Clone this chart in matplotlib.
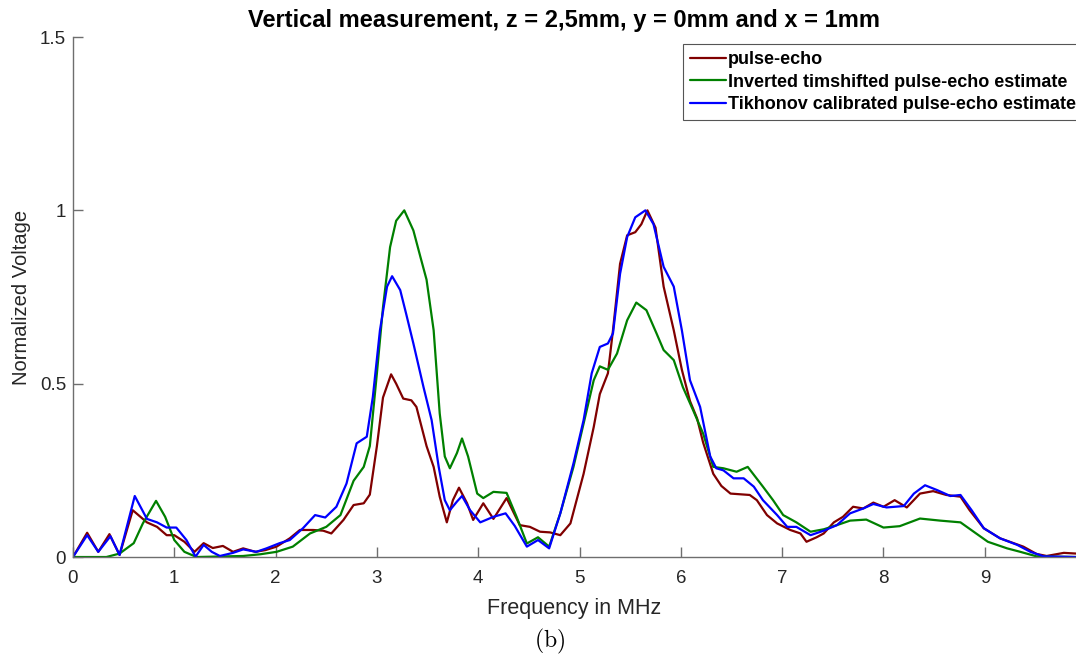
import matplotlib
matplotlib.use('Agg')
import matplotlib.pyplot as plt

# frequency (MHz) / normalized voltage
f_pe = [0, 0.14, 0.25, 0.36, 0.46, 0.59, 0.73, 0.83, 0.925, 1.0, 1.1, 1.2, 1.29, 1.38, 1.48, 1.58,
        1.68, 1.80, 1.90, 2.01, 2.14, 2.24, 2.37, 2.47, 2.55, 2.67, 2.77, 2.87, 2.93, 3.0, 3.06,
        3.14, 3.19, 3.26, 3.34, 3.39, 3.49, 3.56, 3.62, 3.69, 3.75, 3.81, 3.89, 3.95, 4.05, 4.15,
        4.28, 4.41, 4.51, 4.61, 4.71, 4.81, 4.91, 5.04, 5.14, 5.20, 5.28, 5.33, 5.40, 5.47, 5.55,
        5.61, 5.67, 5.75, 5.83, 5.93, 6.01, 6.09, 6.16, 6.22, 6.32, 6.40, 6.49, 6.68, 6.75, 6.85,
        6.95, 7.08, 7.18, 7.24, 7.34, 7.41, 7.51, 7.60, 7.70, 7.80, 7.90, 8.0, 8.11, 8.23, 8.36,
        8.49, 8.62, 8.76, 8.85, 8.99, 9.15, 9.38, 9.51, 9.61, 9.78, 9.9]
v_pe = [0, 0.07, 0.015, 0.066, 0.006, 0.135, 0.10, 0.087, 0.063, 0.063, 0.044, 0.015, 0.04, 0.026,
        0.032, 0.015, 0.025, 0.015, 0.02, 0.03, 0.054, 0.078, 0.078, 0.076, 0.068, 0.107, 0.15,
        0.155, 0.18, 0.32, 0.46, 0.527, 0.50, 0.457, 0.452, 0.433, 0.32, 0.26, 0.174, 0.10, 0.164,
        0.20, 0.155, 0.107, 0.155, 0.11, 0.17, 0.092, 0.087, 0.073, 0.071, 0.063, 0.097, 0.24,
        0.375, 0.47, 0.53, 0.654, 0.846, 0.928, 0.937, 0.96, 1.0, 0.95, 0.78, 0.654, 0.54, 0.45,
        0.40, 0.33, 0.24, 0.205, 0.183, 0.179, 0.164, 0.121, 0.097, 0.078, 0.068, 0.044, 0.057,
        0.068, 0.10, 0.116, 0.145, 0.14, 0.157, 0.145, 0.164, 0.143, 0.183, 0.19, 0.179, 0.174,
        0.135, 0.083, 0.054, 0.03, 0.009, 0.003, 0.012, 0.01]

f_inv = [0, 0.33, 0.46, 0.60, 0.69, 0.82, 0.91, 1.0, 1.1, 1.22, 1.68, 1.85, 2.01, 2.17, 2.34, 2.50,
         2.64, 2.77, 2.87, 2.93, 3.0, 3.06, 3.13, 3.19, 3.27, 3.36, 3.43, 3.49, 3.56, 3.62, 3.67,
         3.72, 3.79, 3.84, 3.90, 3.99, 4.05, 4.15, 4.28, 4.38, 4.48, 4.59, 4.70, 4.81, 4.94, 5.04,
         5.14, 5.20, 5.28, 5.37, 5.47, 5.56, 5.66, 5.76, 5.83, 5.93, 6.02, 6.12, 6.22, 6.32, 6.42,
         6.55, 6.66, 6.81, 6.91, 7.01, 7.14, 7.28, 7.41, 7.54, 7.67, 7.83, 8.0, 8.16, 8.36, 8.56,
         8.76, 8.89, 9.03, 9.22, 9.35, 9.51, 9.9]
v_inv = [0, 0.0, 0.01, 0.04, 0.097, 0.162, 0.116, 0.049, 0.015, 0.0, 0.003, 0.008, 0.015, 0.03,
         0.068, 0.087, 0.121, 0.22, 0.26, 0.32, 0.53, 0.72, 0.894, 0.97, 1.0, 0.942, 0.865, 0.80,
         0.654, 0.414, 0.29, 0.256, 0.30, 0.342, 0.29, 0.183, 0.17, 0.188, 0.185, 0.115, 0.039,
         0.057, 0.03, 0.126, 0.26, 0.385, 0.51, 0.55, 0.54, 0.587, 0.683, 0.734, 0.712, 0.645,
         0.597, 0.568, 0.49, 0.424, 0.356, 0.26, 0.256, 0.246, 0.26, 0.203, 0.164, 0.121, 0.10,
         0.073, 0.08, 0.092, 0.105, 0.108, 0.085, 0.089, 0.111, 0.105, 0.10, 0.073, 0.044, 0.025,
         0.015, 0.002, 0.0]

f_tik = [0, 0.14, 0.25, 0.37, 0.46, 0.61, 0.73, 0.83, 0.925, 1.02, 1.12, 1.21, 1.29, 1.37, 1.45,
         1.58, 1.68, 1.81, 1.91, 2.04, 2.14, 2.27, 2.39, 2.49, 2.60, 2.70, 2.80, 2.90, 2.96, 3.03,
         3.10, 3.15, 3.23, 3.29, 3.36, 3.46, 3.54, 3.61, 3.67, 3.72, 3.79, 3.84, 3.92, 4.02, 4.15,
         4.27, 4.36, 4.48, 4.59, 4.70, 4.81, 4.94, 5.04, 5.12, 5.20, 5.28, 5.33, 5.40, 5.47, 5.55,
         5.65, 5.73, 5.83, 5.93, 6.01, 6.09, 6.19, 6.29, 6.35, 6.42, 6.52, 6.62, 6.72, 6.81, 6.95,
         7.05, 7.14, 7.28, 7.41, 7.54, 7.67, 7.80, 7.90, 8.03, 8.20, 8.30, 8.41, 8.53, 8.66, 8.76,
         8.87, 8.99, 9.15, 9.32, 9.45, 9.58, 9.9]
v_tik = [0, 0.063, 0.015, 0.06, 0.006, 0.176, 0.11, 0.10, 0.085, 0.085, 0.049, 0.001, 0.035,
         0.015, 0.003, 0.012, 0.022, 0.015, 0.025, 0.04, 0.049, 0.083, 0.121, 0.114, 0.145, 0.212,
         0.328, 0.347, 0.462, 0.654, 0.78, 0.81, 0.77, 0.70, 0.616, 0.49, 0.395, 0.26, 0.164, 0.135,
         0.16, 0.176, 0.135, 0.10, 0.116, 0.126, 0.09, 0.03, 0.049, 0.025, 0.126, 0.27, 0.395, 0.53,
         0.606, 0.616, 0.645, 0.817, 0.923, 0.98, 1.0, 0.96, 0.837, 0.78, 0.654, 0.51, 0.433, 0.29,
         0.256, 0.25, 0.227, 0.227, 0.203, 0.164, 0.121, 0.087, 0.087, 0.063, 0.076, 0.092, 0.126,
         0.14, 0.153, 0.143, 0.147, 0.183, 0.207, 0.193, 0.176, 0.179, 0.135, 0.083, 0.054, 0.035,
         0.015, 0.002, 0.0]

labels = ['pulse-echo', 'Inverted timshifted pulse-echo estimate',
          'Tikhonov calibrated pulse-echo estimate']

plt.rcParams['font.family'] = ['Liberation Sans', 'DejaVu Sans']
plt.rcParams['mathtext.fontset'] = 'cm'

fig = plt.figure(figsize=(10.76, 6.61), dpi=100)
ax = fig.add_axes([0.0678, 0.1573, 0.9322, 0.7867])

kw = dict(lw=1.6, solid_joinstyle='round', solid_capstyle='round')
ax.plot(f_pe, v_pe, color='#800000', label=labels[0], **kw)
ax.plot(f_inv, v_inv, color='#008000', label=labels[1], **kw)
ax.plot(f_tik, v_tik, color='#0000ff', label=labels[2], **kw)

ax.set_xlim(0, 9.9)
ax.set_ylim(0, 1.5)
ax.set_xticks(range(0, 10))
ax.set_yticks([0, 0.5, 1, 1.5])
ax.set_yticklabels(['0', '0.5', '1', '1.5'])

gray = '#6e6e6e'
for s in ['top', 'right']:
    ax.spines[s].set_visible(False)
for s in ['left', 'bottom']:
    ax.spines[s].set_color(gray)
    ax.spines[s].set_linewidth(1.0)
ax.tick_params(direction='in', length=7, width=1.0, color=gray, labelsize=13.5,
               labelcolor='#262626')
ax.tick_params(axis='x', pad=9)
ax.tick_params(axis='y', pad=5)

ax.set_xlabel('Frequency in MHz', fontsize=15.5, color='#262626', labelpad=8)
ax.set_ylabel('Normalized Voltage', fontsize=14.5, color='#262626', labelpad=6)
ax.set_title('Vertical measurement, z = 2,5mm, y = 0mm and x = 1mm',
             fontsize=17, fontweight='bold', pad=7, x=0.49)

leg = ax.legend(loc='upper left', bbox_to_anchor=(0.608, 0.9865), frameon=True,
                fancybox=False, framealpha=1, edgecolor='#555555', handlelength=2.0,
                handletextpad=0.1, borderpad=0.4, labelspacing=0.3, borderaxespad=0,
                prop={'weight': 'bold', 'size': 13})
leg.get_frame().set_linewidth(0.8)

fig.text(0.511, 0.030, r'$\mathrm{(b)}$', ha='center', va='center', fontsize=17)

fig.savefig('out.png', dpi=100)
